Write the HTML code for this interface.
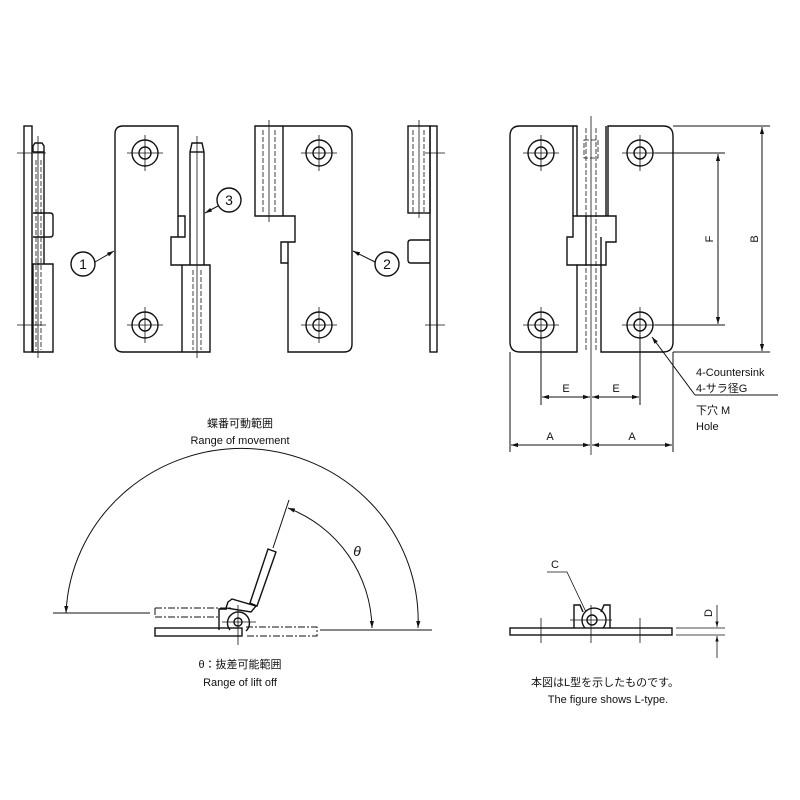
<!DOCTYPE html>
<html><head><meta charset="utf-8"><style>
body{margin:0;background:#fff}
svg{display:block}
text{font-family:"Liberation Sans","Noto Sans CJK JP",sans-serif;fill:#111}
</style></head><body>
<svg width="800" height="800" viewBox="0 0 800 800" xmlns="http://www.w3.org/2000/svg">
<defs>
<marker id="ar" viewBox="0 0 10 10" refX="10" refY="5" markerWidth="7" markerHeight="7" orient="auto-start-reverse"><path d="M0,2 L10,5 L0,8 z" fill="#111"/></marker>
</defs>
<g fill="none" stroke="#111" stroke-width="1.4">
<rect x="24" y="126" width="8" height="226"/>
<path d="M33,264 V352 H53 V264 Z"/>
<path d="M33,213 H50 Q53,213 53,216 V234 Q53,237 50,237 H33"/>
<path d="M33,152 V146 L35,143 H42 L44,146 V152"/>
<path d="M33,152 H44 V264"/>
<path d="M123,126 H178 V216 H185 V237 H171 V265 H210 V352 H123 Q115,352 115,344 V134 Q115,126 123,126 Z"/>
<path d="M178,237 V216"/>
<path d="M182,265 V352"/>
<path d="M190,265 V152 L192,143 H202 L204,152 V265"/>
<path d="M190,152 H204"/>
<circle cx="145" cy="153" r="13"/><circle cx="145" cy="153" r="6"/>
<circle cx="145" cy="325" r="13"/><circle cx="145" cy="325" r="6"/>
<path d="M255,126 H344 Q352,126 352,134 V344 Q352,352 344,352 H288 V263 H281 V242 H288 V242 H295 V216 H255 Z"/>
<path d="M283,126 V216"/>
<path d="M288,242 V263"/>
<circle cx="319" cy="153" r="13"/><circle cx="319" cy="153" r="6"/>
<circle cx="319" cy="325" r="13"/><circle cx="319" cy="325" r="6"/>
<rect x="430" y="126" width="7" height="226"/>
<rect x="408" y="126" width="22" height="87"/>
<path d="M430,240 H411 Q408,240 408,243 V260 Q408,263 411,263 H430"/>
<path d="M573,126 H520 Q510,126 510,136 V342 Q510,352 520,352 H577 V265 H567 V237 H573 V216 H577 V126 Z"/>
<path d="M573,126 V216"/>
<path d="M606,126 V216 H616 V242 H606 V265 H601 V352 H663 Q673,352 673,342 V136 Q673,126 663,126 H608 V216"/>
<path d="M586,216 V265 M601,237 V265"/>
<path d="M577,216 H606 M577,265 H601"/>
<circle cx="541" cy="153" r="13"/><circle cx="541" cy="153" r="6"/>
<circle cx="640" cy="153" r="13"/><circle cx="640" cy="153" r="6"/>
<circle cx="541" cy="325" r="13"/><circle cx="541" cy="325" r="6"/>
<circle cx="640" cy="325" r="13"/><circle cx="640" cy="325" r="6"/>
<circle cx="83" cy="264" r="12"/><circle cx="229" cy="200" r="12"/><circle cx="387" cy="264" r="12"/>
</g>
<g fill="none" stroke="#111" stroke-width="1">
<path d="M95,262 L114,251" marker-end="url(#ar)"/>
<path d="M218,206 L205,213" marker-end="url(#ar)"/>
<path d="M375,262 L353,251" marker-end="url(#ar)"/>
<path d="M673,126 H770 M673,352 H770 M655,153 H725 M655,325 H725"/>
<path d="M762,127 V351" marker-start="url(#ar)" marker-end="url(#ar)"/>
<path d="M718,154 V324" marker-start="url(#ar)" marker-end="url(#ar)"/>
<path d="M510,352 V452 M673,352 V452 M541,335 V405 M640,335 V405"/>
<path d="M542,397 H590" marker-start="url(#ar)" marker-end="url(#ar)"/>
<path d="M592,397 H639" marker-start="url(#ar)" marker-end="url(#ar)"/>
<path d="M511,445 H590" marker-start="url(#ar)" marker-end="url(#ar)"/>
<path d="M592,445 H672" marker-start="url(#ar)" marker-end="url(#ar)"/>
<path d="M695,395 H778"/>
<path d="M695,395 L652,337" marker-end="url(#ar)"/>
</g>
<g stroke="#111" stroke-width="0.8" fill="none">
<path d="M38,136 V358 M17,153 H46 M17,325 H46"/>
<path d="M197,136 V358"/>
<path d="M127,153 H163 M145,135 V171 M127,325 H163 M145,307 V343"/>
<path d="M269,120 V222 M301,153 H337 M319,135 V171 M301,325 H337 M319,307 V343"/>
<path d="M419,120 V218 M425,153 H445 M425,325 H445"/>
<path d="M591,116 V455"/>
<path d="M523,153 H559 M541,135 V171 M622,153 H658 M640,135 V171 M523,325 H559 M541,307 V343 M622,325 H658 M640,307 V343"/>
</g>
<g stroke="#111" stroke-width="0.8" fill="none" stroke-dasharray="5,2">
<path d="M36,160 V350 M41,160 V350 M193,270 V350 M201,270 V350 M263,130 V213 M275,130 V213 M413,130 V213 M424,130 V213 M586,128 V350 M596,128 V350 M584,140 H598 V158 H584 Z"/>
</g>
<g fill="none" stroke="#111" stroke-width="1">
<path d="M66,613 A174,170 0 0 1 418,628" marker-start="url(#ar)" marker-end="url(#ar)"/>
<path d="M288,508 A131,131 0 0 1 372,628" marker-start="url(#ar)" marker-end="url(#ar)"/>
<path d="M53,613 H150 M320,630 H432 M273,548 L289,500"/>
</g>
<g fill="none" stroke="#111" stroke-width="1.4">
<rect x="155" y="628" width="87" height="8"/>
<path d="M268,549 L276,552 L257,606 L250,603 Z"/>
<path d="M228,602 L232,599 L256,606 L251,612 L226,608 Z"/>
<path d="M219,630 V609 H227"/>
<path d="M230,630 A11,11 0 1 1 246,631"/>
<circle cx="238" cy="622" r="4"/>
</g>
<g fill="none" stroke="#111" stroke-width="1" stroke-dasharray="7,2,2,2">
<path d="M155,608 H232 M155,617 H219 M155,608 V617 M246,627 H317 V636 H246"/>
</g>
<g stroke="#111" stroke-width="0.8"><path d="M238,605 V645 M222,622 H256"/></g>
<g fill="none" stroke="#111" stroke-width="1.4">
<rect x="510" y="628" width="162" height="7"/>
<path d="M574,628 V605 H580 L583,612"/>
<path d="M610,628 V605 H604 L601,612"/>
<path d="M585,628 A12,12 0 1 1 603,628"/>
<circle cx="592" cy="620" r="5"/>
</g>
<g fill="none" stroke="#111" stroke-width="0.8">
<path d="M541,618 V643 M591,605 V643 M640,618 V643 M570,620 H612"/>
<path d="M547,572 H567 L586,612"/>
<path d="M676,628 H725 M676,635 H725"/>
<path d="M717,605 V627" marker-end="url(#ar)"/>
<path d="M717,658 V636" marker-end="url(#ar)"/>
</g>
<g font-size="14" text-anchor="middle">
<text x="83" y="269">1</text><text x="229" y="205">3</text><text x="387" y="269">2</text>
</g>
<g font-size="11">
<text x="566" y="392" text-anchor="middle">E</text>
<text x="616" y="392" text-anchor="middle">E</text>
<text x="550" y="440" text-anchor="middle">A</text>
<text x="632" y="440" text-anchor="middle">A</text>
<text transform="translate(713,239) rotate(-90)" text-anchor="middle">F</text>
<text transform="translate(758,239) rotate(-90)" text-anchor="middle">B</text>
<text x="696" y="376">4-Countersink</text>
<text x="696" y="392">4-サラ径G</text>
<text x="696" y="414">下穴 M</text>
<text x="696" y="430">Hole</text>
<text x="240" y="427" text-anchor="middle">蝶番可動範囲</text>
<text x="240" y="444" text-anchor="middle">Range of movement</text>
<text x="240" y="668" text-anchor="middle">θ：抜差可能範囲</text>
<text x="240" y="686" text-anchor="middle">Range of lift off</text>
<text x="555" y="568" text-anchor="middle">C</text>
<text transform="translate(712,613) rotate(-90)" text-anchor="middle">D</text>
<text x="605" y="686" text-anchor="middle">本図はL型を示したものです。</text>
<text x="608" y="703" text-anchor="middle">The figure shows L-type.</text>
</g>
<text x="357" y="556" font-size="14" font-style="italic" font-family="Liberation Serif,serif" text-anchor="middle">θ</text>
</svg>
</body></html>
